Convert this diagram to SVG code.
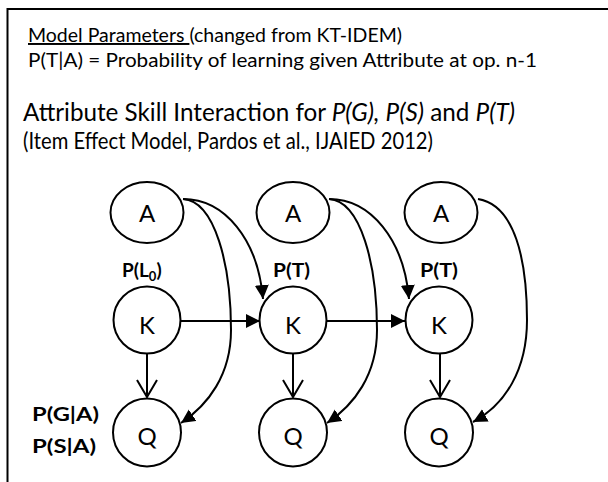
<svg xmlns="http://www.w3.org/2000/svg" width="608" height="482" viewBox="0 0 608 482">
<style>
.t{font-family:Lato,"Open Sans","Liberation Sans",sans-serif;fill:#000}
.h{font-size:19.5px}
.big{font-size:25px}
.sub{font-size:23.5px}
.lbl{font-size:19px;font-weight:bold}
.nd{fill:#fff;stroke:#000;stroke-width:2}
.nt{font-family:Lato,"Open Sans","Liberation Sans",sans-serif;font-size:24px;text-anchor:middle;fill:#000}
.e{fill:none;stroke:#000;stroke-width:2}
</style>
<defs>
<marker id="tri" markerUnits="userSpaceOnUse" markerWidth="16" markerHeight="16" refX="14" refY="7" orient="auto" viewBox="0 0 16 16">
<path d="M0,0 L14,7 L0,14 z" fill="#000"/>
</marker>
<marker id="chev" markerUnits="userSpaceOnUse" markerWidth="22" markerHeight="24" refX="17" refY="10" orient="auto" viewBox="-2 -2 22 24">
<path d="M0,0 L17,10 L0,20" fill="none" stroke="#000" stroke-width="2"/>
</marker>
</defs>
<rect width="608" height="482" fill="#fff"/>
<path d="M7.5,482 V9 H608" fill="none" stroke="#000" stroke-width="2"/>
<g id="header">
<text class="t h" x="28" y="42" textLength="374" lengthAdjust="spacingAndGlyphs" xml:space="preserve"><tspan text-decoration="underline">Model Parameters </tspan>(changed from KT-IDEM)</text>
<text class="t h" x="28" y="67" textLength="509" lengthAdjust="spacingAndGlyphs">P(T|A) = Probability of learning given Attribute at op. n-1</text>
<text class="t big" x="23" y="121" textLength="492" lengthAdjust="spacingAndGlyphs" xml:space="preserve">Attribute Skill Interaction for <tspan font-style="italic">P(G),</tspan> <tspan font-style="italic">P(S)</tspan> and <tspan font-style="italic">P(T)</tspan></text>
<text class="t sub" x="23" y="149" textLength="410" lengthAdjust="spacingAndGlyphs">(Item Effect Model, Pardos et al., IJAIED 2012)</text>
</g>
<g id="labels">
<text class="t lbl" x="122" y="277">P(L<tspan font-size="13" dy="4">0</tspan><tspan dy="-4">)</tspan></text>
<text class="t lbl" x="273" y="277" textLength="37" lengthAdjust="spacingAndGlyphs">P(T)</text>
<text class="t lbl" x="420" y="277" textLength="38" lengthAdjust="spacingAndGlyphs">P(T)</text>
<text class="t lbl" x="32" y="421" textLength="67" lengthAdjust="spacingAndGlyphs">P(G|A)</text>
<text class="t lbl" x="32" y="453" textLength="64" lengthAdjust="spacingAndGlyphs">P(S|A)</text>
</g>
<g id="connectors">
<path class="e" d="M183,199 C225,199 258,240 263,299" marker-end="url(#tri)"/>
<path class="e" d="M183,199 C215,201 231,265 231,330 C231,375 208,405 181,423" marker-end="url(#tri)"/>
<path class="e" d="M329,199 C371,199 404,240 409,299" marker-end="url(#tri)"/>
<path class="e" d="M329,199 C361,201 377,265 377,330 C377,375 354,405 327,423" marker-end="url(#tri)"/>
<path class="e" d="M478,199 C515,205 527,260 527,320 C527,370 505,405 473,422" marker-end="url(#tri)"/>
<path class="e" d="M180,321 H260" marker-end="url(#tri)"/>
<path class="e" d="M326,321 H405" marker-end="url(#tri)"/>
<path class="e" d="M147,354 V397" marker-end="url(#chev)"/>
<path class="e" d="M293,354 V397" marker-end="url(#chev)"/>
<path class="e" d="M440,354 V397" marker-end="url(#chev)"/>
</g>
<g id="A1"><ellipse class="nd" cx="147" cy="212.5" rx="36.5" ry="30.5"/><text class="nt" x="147" y="222">A</text></g>
<g id="A2"><ellipse class="nd" cx="293" cy="212.5" rx="36.5" ry="30.5"/><text class="nt" x="293" y="222">A</text></g>
<g id="A3"><ellipse class="nd" cx="441" cy="212.5" rx="36.5" ry="30.5"/><text class="nt" x="441" y="222">A</text></g>
<g id="K1"><circle class="nd" cx="147" cy="320" r="33.5"/><text class="nt" x="147" y="334">K</text></g>
<g id="K2"><circle class="nd" cx="293" cy="320" r="33.5"/><text class="nt" x="293" y="334">K</text></g>
<g id="K3"><circle class="nd" cx="439" cy="320" r="33.5"/><text class="nt" x="439" y="334">K</text></g>
<g id="Q1"><circle class="nd" cx="147" cy="432.5" r="34"/><text class="nt" x="147" y="445">Q</text></g>
<g id="Q2"><circle class="nd" cx="293" cy="432.5" r="34"/><text class="nt" x="293" y="445">Q</text></g>
<g id="Q3"><circle class="nd" cx="439" cy="432.5" r="34"/><text class="nt" x="439" y="445">Q</text></g>
</svg>
